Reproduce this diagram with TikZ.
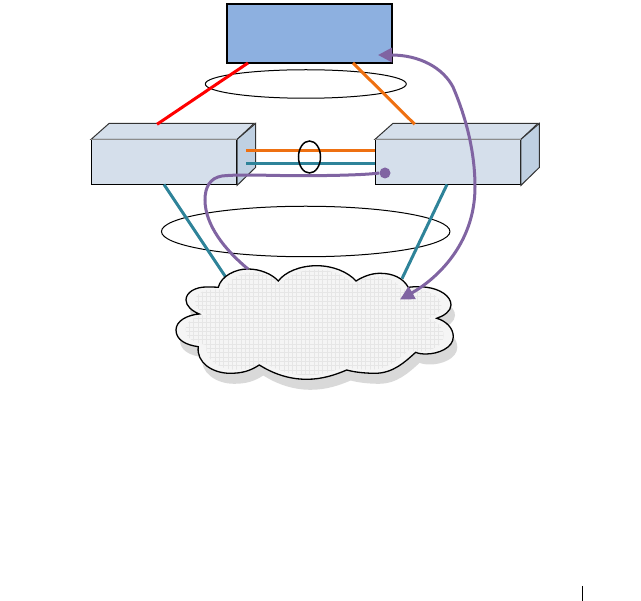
\documentclass[tikz,border=0pt]{standalone}
\usepackage{tikz}
\usetikzlibrary{arrows.meta,positioning,shapes.geometric,calc}
\usepackage{xcolor}
\definecolor{CoreBlue}{HTML}{8DB0E0}
\definecolor{BoxFront}{HTML}{D5DFEB}
\definecolor{BoxSide}{HTML}{BFD0E2}
\definecolor{LinkRed}{HTML}{FF0000}
\definecolor{LinkOrange}{HTML}{EE7011}
\definecolor{LinkTeal}{HTML}{2E8399}
\definecolor{FlowPurple}{HTML}{8064A2}
\definecolor{CloudFill}{HTML}{F5F5F5}
\definecolor{CloudGrid}{HTML}{E6E6E6}
\definecolor{CloudShadow}{HTML}{D9D9D9}
\tikzset{
  corebox/.style={draw=black, fill=CoreBlue, line width=1.7pt, minimum width=165pt, minimum height=59.5pt, inner sep=0pt},
  frontbox/.style={draw=black, fill=BoxFront, line width=1pt, minimum width=145pt, minimum height=45pt, inner sep=0pt},
  topface/.style={draw=black!80, fill=BoxFront, line width=1pt},
  sideface/.style={draw=black!80, fill=BoxSide, line width=1pt},
  lag/.style={draw=black, ellipse, line width=1pt, inner sep=0pt},
  link/.style={line width=3pt},
  flow/.style={draw=FlowPurple, line width=3pt},
  flowarr/.style={flow, {Triangle[length=14pt,width=14pt]}-{Triangle[length=14pt,width=14pt]}}
}
\newcommand{\cloudpath}{(218.3,287.3) .. controls (221,276) and (236,268.7) .. (248,269)
  .. controls (260,269) and (272,274) .. (278.3,281)
  .. controls (285,272) and (300,265.7) .. (316.7,265.7)
  .. controls (333,265.7) and (348,272) .. (356,281)
  .. controls (364,276) and (372,273.3) .. (380,273.3)
  .. controls (393,273.3) and (403,278) .. (408.3,287.3)
  .. controls (415,286.5) and (421,286.5) .. (426.7,287.3)
  .. controls (440,289) and (451,296) .. (451,305)
  .. controls (451,311) and (444,316) .. (436.7,318.3)
  .. controls (446,321) and (453.3,328) .. (453.3,336.7)
  .. controls (453.3,348) and (438,354) .. (426,354)
  .. controls (422,354) and (418,353.5) .. (415.7,352.3)
  .. controls (405,362) and (393,373.3) .. (375,373.3)
  .. controls (364,373.3) and (354,372) .. (346.7,370)
  .. controls (335,375) and (322,379.3) .. (306.7,379.3)
  .. controls (288,379.3) and (272,373) .. (259.3,365)
  .. controls (250,371) and (242,373.3) .. (230,373.3)
  .. controls (212,373.3) and (196,362) .. (198.3,346.7)
  .. controls (186,345) and (176,340) .. (176,330)
  .. controls (176,321) and (187,315) .. (199.3,314)
  .. controls (192,311) and (186,306) .. (186,300)
  .. controls (186,292) and (196,287) .. (206,287)
  .. controls (210,287) and (214,287) .. (218.3,287.3) -- cycle}
\begin{document}
\begin{tikzpicture}[x=1pt,y=-1pt]
\useasboundingbox (0,0) rectangle (641,601);
% nodes
\node[corebox] (core) at (309.5,33.5) {};
\node[lag,minimum width=201pt,minimum height=28.5pt] (lagtop) at (305.8,84) {};
\node[lag,minimum width=288.5pt,minimum height=50.5pt] (lagbottom) at (305.7,231.5) {};
\node[frontbox] (swleft) at (164,162.5) {};
\node[frontbox] (swright) at (447.8,162.5) {};
\foreach \n in {swleft,swright}{
  \draw[topface] (\n.north west) -- ++(18,-16) -- ++(145,0) -- (\n.north east) -- cycle;
  \draw[sideface] (\n.north east) -- ++(18.5,-16) -- ++(0,44) -- (\n.south east) -- cycle;
  \draw[black!45,line width=1pt] (\n.north west) -- (\n.north east);
}
% connector ends
\coordinate (coreL) at (248,63);
\coordinate (coreR) at (353,63);
\coordinate (topL) at (157,124.3);
\coordinate (topR) at (414.7,124.3);
\coordinate (midLa) at (246,150.5);
\coordinate (midRa) at (375.3,150.5);
\coordinate (midLb) at (246,163.5);
\coordinate (midRb) at (375.3,163.5);
\coordinate (botL) at (164,184.5);
\coordinate (botR) at (447,184.5);
\coordinate (cloudL) at (226,277.5);
\coordinate (cloudR) at (402,278.7);
\coordinate (cloudIn) at (248,269);
\coordinate (cloudTip) at (400,299.5);
\coordinate (coreTip) at (378,55);
% links
\foreach \x/\y/\c in {coreL/topL/LinkRed,coreR/topR/LinkOrange,midLa/midRa/LinkOrange,midLb/midRb/LinkTeal,botL/cloudL/LinkTeal,botR/cloudR/LinkTeal}{\draw[link,draw=\c] (\x) -- (\y);}
\node[lag,line width=1.5pt,minimum width=22pt,minimum height=32pt] (lagmid) at (309.5,157) {};
% cloud
\fill[CloudShadow,shift={(4,10.5)}] \cloudpath;
\fill[CloudFill] \cloudpath;
\begin{scope}
\clip[shift={(22,22.5)},scale=0.93] \cloudpath;
\draw[CloudGrid,line width=0.5pt] (170,260) grid[step=4.3pt] (460,385);
\end{scope}
\draw[black,line width=1.3pt] \cloudpath;
% flows
\node[circle,fill=FlowPurple,minimum size=11pt,inner sep=0pt] (port) at (385,173) {};
\draw[flow] (port.west) .. controls (365,175) and (330,175.7) .. (300,175.7)
  .. controls (270,175.7) and (240,174) .. (222,176)
  .. controls (210,178) and (205,187) .. (205,200)
  .. controls (205,225) and (225,250) .. (cloudIn);
\draw[flowarr] (cloudTip) .. controls (435,280) and (475,245) .. (475,187)
  .. controls (475,150) and (465,115) .. (453,87)
  .. controls (443,68) and (420,55) .. (391,55) -- (coreTip);
% page mark
\coordinate (markA) at (582.5,586);
\coordinate (markB) at (582.5,600.7);
\draw[black,line width=0.8pt] (markA) -- (markB);
\end{tikzpicture}
\end{document}
